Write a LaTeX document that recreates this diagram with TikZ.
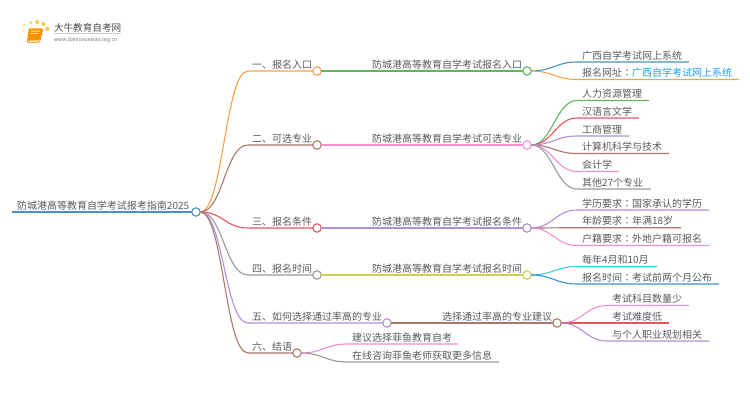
\documentclass[tikz,border=0pt]{standalone}
\usepackage{fontspec}
\setmainfont{Noto Sans CJK SC}
\setsansfont{Noto Sans CJK SC}
\newfontfamily\cjktc{Noto Sans CJK TC}
\newcommand{\midcolon}{{\cjktc ：}}
\usetikzlibrary{calc}
\definecolor{cOrange}{HTML}{FF9F45}
\definecolor{cBlue}{HTML}{4A90C8}
\definecolor{cGreen}{HTML}{5CB85C}
\definecolor{cBrown}{HTML}{A9776B}
\definecolor{cPink}{HTML}{F08ED0}
\definecolor{cRed}{HTML}{E8545A}
\definecolor{cPurple}{HTML}{B18FD8}
\definecolor{cGrey}{HTML}{999999}
\definecolor{cYellow}{HTML}{CFCF4A}
\definecolor{cCyan}{HTML}{3CCFDF}
\definecolor{cBlueb}{HTML}{3C8FD0}
\definecolor{cText}{HTML}{5A5A5A}
\definecolor{cLink}{HTML}{1E9FF2}
\tikzset{
  lab/.style={anchor=base west,inner sep=0pt,outer sep=0pt,text=cText,font=\fontsize{10}{12}\selectfont},
  dot/.style={circle,draw=#1,fill=white,line width=1.1pt,minimum size=8.5pt,inner sep=0pt,outer sep=0pt},
  conn/.style={draw=#1,line width=1.1pt},
  bend/.style={to path={.. controls ($(\tikztostart)+(#1,0)$) and ($(\tikztotarget)-(#1,0)$) .. (\tikztotarget)}},
  bend/.default=24,
}
\begin{document}
\begin{tikzpicture}[x=1pt,y=-1pt]
\useasboundingbox (0,0) rectangle (750,410);
% logo
\foreach \px/\py/\pr/\po in {24/25/1.5/.45,31/22.7/1.9/.6,37.3/22/2/.7,43.3/24/2/.75,47.3/28.7/2.3/.65,22.7/30.7/1.4/.35,21/36.7/1.2/.25,23.3/42.3/1/.15}
  \fill[orange!60!yellow,opacity=\po] (\px,\py) circle (\pr);
\fill[orange!85!yellow,rounded corners=1pt] (28.7,28.3) -- (42.7,28.3) -- (39.3,40.5) -- (27.3,40.5) -- cycle;
\draw[orange!90!red,line width=.8pt,rounded corners=1pt] (28,38.5) -- (27,42.2) -- (39.5,42.2) -- (42.7,29.5);
\fill[yellow!50!white] (31,30.5) rectangle (39.5,31.5) (30.5,33) rectangle (39,33.8);
\node[lab,font=\fontsize{9.6}{11}\selectfont,text=black!70] (logotitle) at (54,31) {大牛教育自考网};
\draw[black!20,line width=.4pt] (54,33.5) -- (121,33.5);
\node[lab,font=\fontsize{5.25}{6}\selectfont,text=black!55] (logourl) at (54,41) {www.daniuxuexiao.org.cn};

% circles
\node[dot=cBlue]   (root) at (196,212) {};
\node[dot=cOrange] (a1) at (317,71) {};
\node[dot=cBrown]  (a2) at (317,145) {};
\node[dot=cRed]    (a3) at (317,228) {};
\node[dot=cGrey]   (a4) at (317,275) {};
\node[dot=cPurple] (a5) at (387,323) {};
\node[dot=cBrown]  (a6) at (297,353) {};
\node[dot=cGreen]  (b1) at (527,71) {};
\node[dot=cPink]   (b2) at (527,145) {};
\node[dot=cPurple] (b3) at (527,228) {};
\node[dot=cYellow] (b4) at (527,275) {};
\node[dot=cBrown]  (b5) at (557,323) {};

% coordinates
\coordinate (r0) at (12,212);
\foreach \n/\x/\y in {
  a1s/248/71,a2s/248/145,a3s/248/228,a4s/248/275,a5s/248/323,a6s/248/353,
  c11s/577/62,c11e/689/62,c12s/577/79.5,c12e/739/79.5,
  c21s/577/100.5,c21e/649/100.5,c22s/577/118,c22e/639/118,c23s/577/136,c23e/629/136,
  c24s/577/153.5,c24e/669/153.5,c25s/577/171.5,c25e/619/171.5,c26s/577/189,c26e/651/189,
  c31s/577/210,c31e/709/210,c32s/577/227.7,c32e/681/227.7,c33s/577/245.5,c33e/709/245.5,
  c41s/577/266.5,c41e/657/266.5,c42s/577/284,c42e/719/284,
  c51s/607/305.5,c51e/689/305.5,c52s/607/323,c52e/669/323,c53s/607/341,c53e/709/341,
  c61s/347/344,c61e/458/344,c62s/347/362,c62e/499/362}
  {\coordinate (\n) at (\x,\y);}

% connectors
\draw[conn=cBlue,line width=1.5pt] (r0) -- (root.west);
\foreach \t/\c in {a1/cOrange,a2/cBrown,a3/cRed,a4/cGrey,a5/cPurple,a6/cBrown}
  \draw[conn=\c] (root.east) to[bend=23] (\t s) -- (\t.west);
\draw[conn=cGreen]  (a1.east) -- (b1.west);
\draw[conn=cPink]   (a2.east) -- (b2.west);
\draw[conn=cPurple] (a3.east) -- (b3.west);
\draw[conn=cYellow] (a4.east) -- (b4.west);
\draw[conn=cBrown]  (a5.east) -- (b5.west);
\foreach \p/\t/\c in {b1/c11/cBlue,b1/c12/cOrange,
  b2/c21/cGreen,b2/c22/cRed,b2/c23/cPurple,b2/c24/cBrown,b2/c25/cPink,b2/c26/cGrey,
  b3/c31/cPurple,b3/c32/cBrown,b3/c33/cPink,
  b4/c41/cCyan,b4/c42/cBlueb,
  b5/c51/cPink,b5/c52/cRed,b5/c53/cPurple,
  a6/c61/cPink,a6/c62/cGrey}
  \draw[conn=\c] (\p.east) to[bend=21] (\t s) -- (\t e);

% labels
\node[lab] (troot) at (17,209) {防城港高等教育自学考试报考指南2025};
\node[lab] (t1) at (252,68) {一、报名入口};
\node[lab] (t2) at (252,142) {二、可选专业};
\node[lab] (t3) at (252,225) {三、报名条件};
\node[lab] (t4) at (252,272) {四、报名时间};
\node[lab] (t5) at (252,320) {五、如何选择通过率高的专业};
\node[lab] (t6) at (252,350) {六、结语};
\node[lab] (u1) at (372,68) {防城港高等教育自学考试报名入口};
\node[lab] (u2) at (372,142) {防城港高等教育自学考试可选专业};
\node[lab] (u3) at (372,225) {防城港高等教育自学考试报名条件};
\node[lab] (u4) at (372,272) {防城港高等教育自学考试报名时间};
\node[lab] (u5) at (442,320) {选择通过率高的专业建议};
\node[lab] (v11) at (582,59) {广西自学考试网上系统};
\node[lab] (v12) at (582,76.5) {报名网址\midcolon\textcolor{cLink}{广西自学考试网上系统}};
\node[lab] (v21) at (582,97.5) {人力资源管理};
\node[lab] (v22) at (582,115) {汉语言文学};
\node[lab] (v23) at (582,133) {工商管理};
\node[lab] (v24) at (582,150.5) {计算机科学与技术};
\node[lab] (v25) at (582,168.5) {会计学};
\node[lab] (v26) at (582,186) {其他27个专业};
\node[lab] (v31) at (582,207) {学历要求\midcolon 国家承认的学历};
\node[lab] (v32) at (582,224.7) {年龄要求\midcolon 年满18岁};
\node[lab] (v33) at (582,242.5) {户籍要求\midcolon 外地户籍可报名};
\node[lab] (v41) at (582,263.5) {每年4月和10月};
\node[lab] (v42) at (582,281) {报名时间\midcolon 考试前两个月公布};
\node[lab] (v51) at (612,302.5) {考试科目数量少};
\node[lab] (v52) at (612,320) {考试难度低};
\node[lab] (v53) at (612,338) {与个人职业规划相关};
\node[lab] (v61) at (352,341) {建议选择菲鱼教育自考};
\node[lab] (v62) at (352,359) {在线咨询菲鱼老师获取更多信息};
\end{tikzpicture}
\end{document}
